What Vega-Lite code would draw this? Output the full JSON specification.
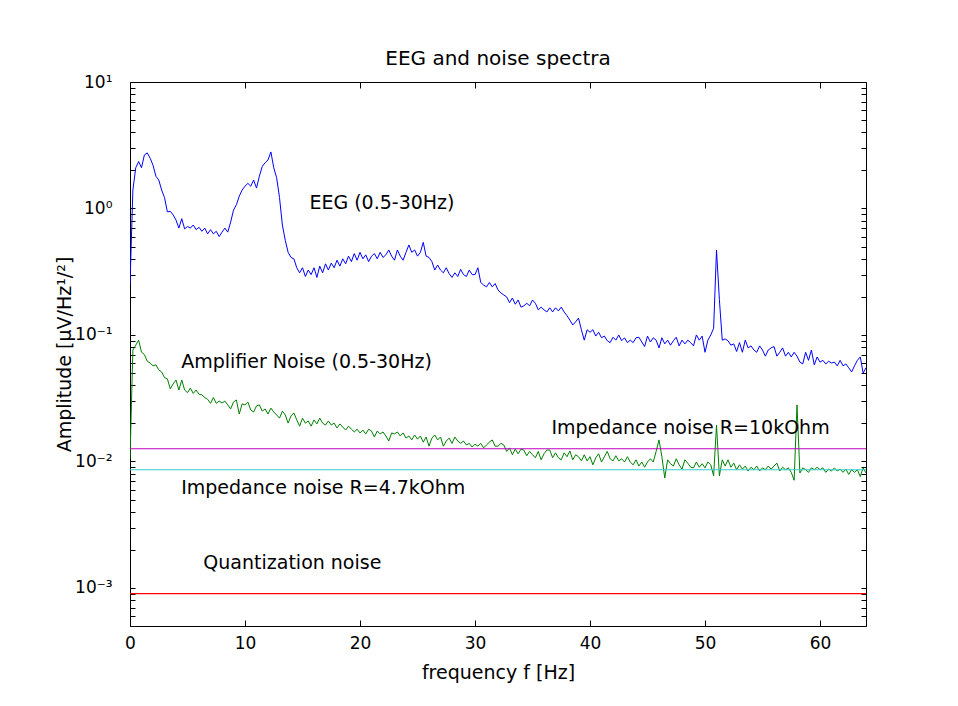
{
 "$schema": "https://vega.github.io/schema/vega-lite/v6.json",
 "width": 736,
 "height": 544,
 "autosize": {"type": "none"},
 "padding": {"left": 130, "top": 82, "right": 92, "bottom": 80},
 "background": "white",
 "config": {
  "view": {"stroke": "black", "strokeWidth": 1},
  "font": "DejaVu Sans",
  "axis": {"grid": false, "domain": false, "tickColor": "black", "labelColor": "black", "titleColor": "black", "labelFont": "DejaVu Sans", "titleFont": "DejaVu Sans", "labelFontSize": 17, "titleFontSize": 19, "titleFontWeight": "normal"},
  "title": {"font": "DejaVu Sans", "fontSize": 20, "fontWeight": "normal", "color": "black"}
 },
 "title": {"text": "EEG and noise spectra", "anchor": "middle", "offset": 4},
 "datasets": {
  "spectrum": [
   {"f":0,"eeg":0.25,"amp":0.0105},{"f":0.25,"eeg":1.4,"amp":0.076},{"f":0.5,"eeg":2.1,"amp":0.083},{"f":0.75,"eeg":2.35,"amp":0.091},
   {"f":1,"eeg":2.1,"amp":0.073},{"f":1.25,"eeg":2.65,"amp":0.07},{"f":1.5,"eeg":2.75,"amp":0.062},{"f":1.75,"eeg":2.5,"amp":0.06},
   {"f":2,"eeg":2.2,"amp":0.057},{"f":2.25,"eeg":1.8,"amp":0.058},{"f":2.5,"eeg":1.68,"amp":0.053},{"f":2.75,"eeg":1.4,"amp":0.051},
   {"f":3,"eeg":1.22,"amp":0.046},{"f":3.25,"eeg":0.94,"amp":0.045},{"f":3.5,"eeg":0.95,"amp":0.0375},{"f":3.75,"eeg":0.89,"amp":0.041},
   {"f":4,"eeg":0.81,"amp":0.044},{"f":4.25,"eeg":0.7,"amp":0.0367},{"f":4.5,"eeg":0.83,"amp":0.0441},{"f":4.75,"eeg":0.69,"amp":0.0367},
   {"f":5,"eeg":0.72,"amp":0.035},{"f":5.25,"eeg":0.7,"amp":0.038},{"f":5.5,"eeg":0.74,"amp":0.0345},{"f":5.75,"eeg":0.68,"amp":0.0367},
   {"f":6,"eeg":0.71,"amp":0.034},{"f":6.25,"eeg":0.66,"amp":0.0336},{"f":6.5,"eeg":0.7,"amp":0.032},{"f":6.75,"eeg":0.63,"amp":0.031},
   {"f":7,"eeg":0.68,"amp":0.0288},{"f":7.25,"eeg":0.63,"amp":0.032},{"f":7.5,"eeg":0.66,"amp":0.0288},{"f":7.75,"eeg":0.6,"amp":0.03},
   {"f":8,"eeg":0.65,"amp":0.029},{"f":8.25,"eeg":0.7,"amp":0.03},{"f":8.5,"eeg":0.65,"amp":0.028},{"f":8.75,"eeg":0.78,"amp":0.026},
   {"f":9,"eeg":0.97,"amp":0.0295},{"f":9.25,"eeg":1.07,"amp":0.0306},{"f":9.5,"eeg":1.25,"amp":0.0237},{"f":9.75,"eeg":1.4,"amp":0.0285},
   {"f":10,"eeg":1.5,"amp":0.028},{"f":10.25,"eeg":1.58,"amp":0.0295},{"f":10.5,"eeg":1.5,"amp":0.0255},{"f":10.75,"eeg":1.68,"amp":0.0246},
   {"f":11,"eeg":1.45,"amp":0.0275},{"f":11.25,"eeg":1.8,"amp":0.028},{"f":11.5,"eeg":2.15,"amp":0.025},{"f":11.75,"eeg":2.3,"amp":0.026},
   {"f":12,"eeg":2.42,"amp":0.0237},{"f":12.25,"eeg":2.8,"amp":0.0264},{"f":12.5,"eeg":2.1,"amp":0.0246},{"f":12.75,"eeg":1.75,"amp":0.0233},
   {"f":13,"eeg":1.22,"amp":0.022},{"f":13.25,"eeg":0.74,"amp":0.025},{"f":13.5,"eeg":0.56,"amp":0.0233},{"f":13.75,"eeg":0.45,"amp":0.0201},
   {"f":14,"eeg":0.41,"amp":0.0229},{"f":14.25,"eeg":0.4,"amp":0.0242},{"f":14.5,"eeg":0.34,"amp":0.0213},{"f":14.75,"eeg":0.31,"amp":0.019},
   {"f":15,"eeg":0.34,"amp":0.022},{"f":15.25,"eeg":0.29,"amp":0.0201},{"f":15.5,"eeg":0.326,"amp":0.0209},{"f":15.75,"eeg":0.3,"amp":0.019},
   {"f":16,"eeg":0.34,"amp":0.0213},{"f":16.25,"eeg":0.285,"amp":0.0198},{"f":16.5,"eeg":0.35,"amp":0.022},{"f":16.75,"eeg":0.31,"amp":0.0201},
   {"f":17,"eeg":0.365,"amp":0.0194},{"f":17.25,"eeg":0.326,"amp":0.0209},{"f":17.5,"eeg":0.37,"amp":0.0194},{"f":17.75,"eeg":0.34,"amp":0.0201},
   {"f":18,"eeg":0.39,"amp":0.0184},{"f":18.25,"eeg":0.35,"amp":0.0198},{"f":18.5,"eeg":0.4,"amp":0.0187},{"f":18.75,"eeg":0.365,"amp":0.0177},
   {"f":19,"eeg":0.42,"amp":0.019},{"f":19.25,"eeg":0.38,"amp":0.018},{"f":19.5,"eeg":0.44,"amp":0.0171},{"f":19.75,"eeg":0.39,"amp":0.018},
   {"f":20,"eeg":0.45,"amp":0.0168},{"f":20.25,"eeg":0.4,"amp":0.0177},{"f":20.5,"eeg":0.43,"amp":0.0165},{"f":20.75,"eeg":0.38,"amp":0.018},
   {"f":21,"eeg":0.42,"amp":0.0174},{"f":21.25,"eeg":0.44,"amp":0.0156},{"f":21.5,"eeg":0.4,"amp":0.0174},{"f":21.75,"eeg":0.45,"amp":0.0165},
   {"f":22,"eeg":0.41,"amp":0.0171},{"f":22.25,"eeg":0.43,"amp":0.0159},{"f":22.5,"eeg":0.47,"amp":0.0145},{"f":22.75,"eeg":0.42,"amp":0.0168},
   {"f":23,"eeg":0.39,"amp":0.0165},{"f":23.25,"eeg":0.47,"amp":0.0171},{"f":23.5,"eeg":0.42,"amp":0.0159},{"f":23.75,"eeg":0.39,"amp":0.0168},
   {"f":24,"eeg":0.45,"amp":0.0153},{"f":24.25,"eeg":0.515,"amp":0.0159},{"f":24.5,"eeg":0.45,"amp":0.0148},{"f":24.75,"eeg":0.47,"amp":0.0162},
   {"f":25,"eeg":0.42,"amp":0.015},{"f":25.25,"eeg":0.45,"amp":0.0159},{"f":25.5,"eeg":0.54,"amp":0.0142},{"f":25.75,"eeg":0.42,"amp":0.0156},
   {"f":26,"eeg":0.41,"amp":0.0132},{"f":26.25,"eeg":0.38,"amp":0.0153},{"f":26.5,"eeg":0.326,"amp":0.0162},{"f":26.75,"eeg":0.357,"amp":0.0148},
   {"f":27,"eeg":0.326,"amp":0.0156},{"f":27.25,"eeg":0.31,"amp":0.0132},{"f":27.5,"eeg":0.34,"amp":0.0145},{"f":27.75,"eeg":0.305,"amp":0.0153},
   {"f":28,"eeg":0.285,"amp":0.0139},{"f":28.25,"eeg":0.31,"amp":0.0156},{"f":28.5,"eeg":0.29,"amp":0.0145},{"f":28.75,"eeg":0.33,"amp":0.0139},
   {"f":29,"eeg":0.3,"amp":0.0145},{"f":29.25,"eeg":0.29,"amp":0.0135},{"f":29.5,"eeg":0.326,"amp":0.0139},{"f":29.75,"eeg":0.3,"amp":0.013},
   {"f":30,"eeg":0.3,"amp":0.0137},{"f":30.25,"eeg":0.34,"amp":0.0132},{"f":30.5,"eeg":0.26,"amp":0.0139},{"f":30.75,"eeg":0.248,"amp":0.0128},
   {"f":31,"eeg":0.24,"amp":0.0135},{"f":31.25,"eeg":0.26,"amp":0.0142},{"f":31.5,"eeg":0.24,"amp":0.0148},{"f":31.75,"eeg":0.255,"amp":0.0132},
   {"f":32,"eeg":0.227,"amp":0.0132},{"f":32.25,"eeg":0.215,"amp":0.0139},{"f":32.5,"eeg":0.207,"amp":0.0135},{"f":32.75,"eeg":0.2,"amp":0.012},
   {"f":33,"eeg":0.18,"amp":0.0128},{"f":33.25,"eeg":0.196,"amp":0.0113},{"f":33.5,"eeg":0.175,"amp":0.0125},{"f":33.75,"eeg":0.189,"amp":0.0115},
   {"f":34,"eeg":0.166,"amp":0.0125},{"f":34.25,"eeg":0.17,"amp":0.0123},{"f":34.5,"eeg":0.178,"amp":0.0111},{"f":34.75,"eeg":0.17,"amp":0.012},
   {"f":35,"eeg":0.189,"amp":0.0113},{"f":35.25,"eeg":0.178,"amp":0.0107},{"f":35.5,"eeg":0.158,"amp":0.012},{"f":35.75,"eeg":0.166,"amp":0.0103},
   {"f":36,"eeg":0.158,"amp":0.0115},{"f":36.25,"eeg":0.152,"amp":0.0123},{"f":36.5,"eeg":0.164,"amp":0.0123},{"f":36.75,"eeg":0.152,"amp":0.0107},
   {"f":37,"eeg":0.164,"amp":0.0117},{"f":37.25,"eeg":0.155,"amp":0.0107},{"f":37.5,"eeg":0.166,"amp":0.0103},{"f":37.75,"eeg":0.152,"amp":0.0117},
   {"f":38,"eeg":0.142,"amp":0.0109},{"f":38.25,"eeg":0.131,"amp":0.0121},{"f":38.5,"eeg":0.12,"amp":0.0103},{"f":38.75,"eeg":0.127,"amp":0.0113},
   {"f":39,"eeg":0.136,"amp":0.0109},{"f":39.25,"eeg":0.11,"amp":0.0101},{"f":39.5,"eeg":0.091,"amp":0.0113},{"f":39.75,"eeg":0.11,"amp":0.0101},
   {"f":40,"eeg":0.105,"amp":0.0109},{"f":40.25,"eeg":0.11,"amp":0.0094},{"f":40.5,"eeg":0.098,"amp":0.0107},{"f":40.75,"eeg":0.105,"amp":0.0115},
   {"f":41,"eeg":0.095,"amp":0.0099},{"f":41.25,"eeg":0.098,"amp":0.0109},{"f":41.5,"eeg":0.09,"amp":0.012},{"f":41.75,"eeg":0.087,"amp":0.0105},
   {"f":42,"eeg":0.096,"amp":0.0101},{"f":42.25,"eeg":0.091,"amp":0.0111},{"f":42.5,"eeg":0.1,"amp":0.0101},{"f":42.75,"eeg":0.09,"amp":0.0105},
   {"f":43,"eeg":0.095,"amp":0.0099},{"f":43.25,"eeg":0.087,"amp":0.0109},{"f":43.5,"eeg":0.091,"amp":0.0099},{"f":43.75,"eeg":0.087,"amp":0.0094},
   {"f":44,"eeg":0.095,"amp":0.0103},{"f":44.25,"eeg":0.096,"amp":0.0092},{"f":44.5,"eeg":0.088,"amp":0.0099},{"f":44.75,"eeg":0.081,"amp":0.009},
   {"f":45,"eeg":0.098,"amp":0.0099},{"f":45.25,"eeg":0.088,"amp":0.0105},{"f":45.5,"eeg":0.095,"amp":0.0099},{"f":45.75,"eeg":0.091,"amp":0.012},
   {"f":46,"eeg":0.079,"amp":0.0148},{"f":46.25,"eeg":0.095,"amp":0.0109},{"f":46.5,"eeg":0.085,"amp":0.0074},{"f":46.75,"eeg":0.091,"amp":0.0103},
   {"f":47,"eeg":0.083,"amp":0.0096},{"f":47.25,"eeg":0.09,"amp":0.0092},{"f":47.5,"eeg":0.096,"amp":0.0105},{"f":47.75,"eeg":0.082,"amp":0.0094},
   {"f":48,"eeg":0.091,"amp":0.0087},{"f":48.25,"eeg":0.085,"amp":0.0103},{"f":48.5,"eeg":0.091,"amp":0.0097},{"f":48.75,"eeg":0.087,"amp":0.009},
   {"f":49,"eeg":0.082,"amp":0.0089},{"f":49.25,"eeg":0.1,"amp":0.0099},{"f":49.5,"eeg":0.091,"amp":0.009},{"f":49.75,"eeg":0.098,"amp":0.0096},
   {"f":50,"eeg":0.073,"amp":0.0089},{"f":50.25,"eeg":0.091,"amp":0.0099},{"f":50.5,"eeg":0.1,"amp":0.0094},{"f":50.75,"eeg":0.113,"amp":0.0077},
   {"f":51,"eeg":0.47,"amp":0.0194},{"f":51.25,"eeg":0.19,"amp":0.0077},{"f":51.5,"eeg":0.091,"amp":0.0103},{"f":51.75,"eeg":0.093,"amp":0.0092},
   {"f":52,"eeg":0.09,"amp":0.0103},{"f":52.25,"eeg":0.083,"amp":0.009},{"f":52.5,"eeg":0.085,"amp":0.0097},{"f":52.75,"eeg":0.074,"amp":0.0086},
   {"f":53,"eeg":0.087,"amp":0.0094},{"f":53.25,"eeg":0.073,"amp":0.0087},{"f":53.5,"eeg":0.091,"amp":0.0092},{"f":53.75,"eeg":0.079,"amp":0.0084},
   {"f":54,"eeg":0.082,"amp":0.009},{"f":54.25,"eeg":0.076,"amp":0.0086},{"f":54.5,"eeg":0.073,"amp":0.0092},{"f":54.75,"eeg":0.082,"amp":0.0084},
   {"f":55,"eeg":0.076,"amp":0.0089},{"f":55.25,"eeg":0.068,"amp":0.0086},{"f":55.5,"eeg":0.076,"amp":0.0092},{"f":55.75,"eeg":0.079,"amp":0.0087},
   {"f":56,"eeg":0.081,"amp":0.0092},{"f":56.25,"eeg":0.068,"amp":0.0097},{"f":56.5,"eeg":0.073,"amp":0.0084},{"f":56.75,"eeg":0.079,"amp":0.009},
   {"f":57,"eeg":0.068,"amp":0.0086},{"f":57.25,"eeg":0.073,"amp":0.0089},{"f":57.5,"eeg":0.067,"amp":0.0082},{"f":57.75,"eeg":0.073,"amp":0.0071},
   {"f":58,"eeg":0.068,"amp":0.028},{"f":58.25,"eeg":0.061,"amp":0.0081},{"f":58.5,"eeg":0.059,"amp":0.0089},{"f":58.75,"eeg":0.073,"amp":0.0086},
   {"f":59,"eeg":0.063,"amp":0.0082},{"f":59.25,"eeg":0.076,"amp":0.0089},{"f":59.5,"eeg":0.058,"amp":0.0086},{"f":59.75,"eeg":0.067,"amp":0.009},
   {"f":60,"eeg":0.061,"amp":0.0086},{"f":60.25,"eeg":0.063,"amp":0.0089},{"f":60.5,"eeg":0.059,"amp":0.0082},{"f":60.75,"eeg":0.062,"amp":0.0087},
   {"f":61,"eeg":0.06,"amp":0.0084},{"f":61.25,"eeg":0.061,"amp":0.0089},{"f":61.5,"eeg":0.057,"amp":0.0084},{"f":61.75,"eeg":0.063,"amp":0.0087},
   {"f":62,"eeg":0.057,"amp":0.0082},{"f":62.25,"eeg":0.059,"amp":0.0087},{"f":62.5,"eeg":0.055,"amp":0.0079},{"f":62.75,"eeg":0.051,"amp":0.0086},
   {"f":63,"eeg":0.057,"amp":0.0082},{"f":63.25,"eeg":0.063,"amp":0.0086},{"f":63.5,"eeg":0.067,"amp":0.0076},{"f":63.75,"eeg":0.05,"amp":0.0089},
   {"f":64,"eeg":0.055,"amp":0.0081}
  ],
  "levels": [
   {"noise": "Impedance 10kOhm", "v": 0.0126},
   {"noise": "Impedance 4.7kOhm", "v": 0.0086},
   {"noise": "Quantization", "v": 0.0009}
  ],
  "labels": [
   {"label": "EEG (0.5-30Hz)", "f": 15.6, "v": 1.1},
   {"label": "Amplifier Noise (0.5-30Hz)", "f": 4.45, "v": 0.0615},
   {"label": "Impedance noise R=10kOhm", "f": 36.65, "v": 0.0183},
   {"label": "Impedance noise R=4.7kOhm", "f": 4.45, "v": 0.0062},
   {"label": "Quantization noise", "f": 6.38, "v": 0.00158}
  ]
 },
 "layer": [
  {
   "data": {"name": "spectrum"},
   "mark": {"type": "line", "color": "#0000FF", "strokeWidth": 1, "clip": true},
   "encoding": {
    "x": {"field": "f", "type": "quantitative", "scale": {"domain": [0, 64], "nice": false, "zero": false},
     "axis": {"orient": "bottom", "values": [0, 10, 20, 30, 40, 50, 60], "tickSize": -6, "labelPadding": 15, "labelFlush": false, "labelOverlap": false, "title": "frequency f [Hz]", "titlePadding": 12}},
    "y": {"field": "eeg", "type": "quantitative", "scale": {"type": "log", "domain": [0.0005, 10], "nice": false},
     "axis": {"orient": "left", "values": [0.0005,0.0006,0.0007,0.0008,0.0009,0.001,0.002,0.003,0.004,0.005,0.006,0.007,0.008,0.009,0.01,0.02,0.03,0.04,0.05,0.06,0.07,0.08,0.09,0.1,0.2,0.3,0.4,0.5,0.6,0.7,0.8,0.9,1,2,3,4,5,6,7,8,9,10],
      "tickSize": -5, "labelPadding": 23, "labelOverlap": false, "labelFlush": false,
      "labelExpr": "datum.value == 10 ? '10¹' : datum.value == 1 ? '10⁰' : datum.value == 0.1 ? '10⁻¹' : datum.value == 0.01 ? '10⁻²' : datum.value == 0.001 ? '10⁻³' : ''",
      "title": "Amplitude [µV/Hz¹/²]", "titlePadding": 0}}
   }
  },
  {
   "data": {"name": "spectrum"},
   "mark": {"type": "line", "color": "#008000", "strokeWidth": 1, "clip": true},
   "encoding": {
    "x": {"field": "f", "type": "quantitative", "scale": {"domain": [0, 64], "nice": false, "zero": false},
     "axis": {"orient": "top", "values": [0, 10, 20, 30, 40, 50, 60], "tickSize": -6, "labels": false, "title": null}},
    "y": {"field": "amp", "type": "quantitative", "scale": {"type": "log", "domain": [0.0005, 10], "nice": false},
     "axis": {"orient": "right", "values": [0.0005,0.0006,0.0007,0.0008,0.0009,0.001,0.002,0.003,0.004,0.005,0.006,0.007,0.008,0.009,0.01,0.02,0.03,0.04,0.05,0.06,0.07,0.08,0.09,0.1,0.2,0.3,0.4,0.5,0.6,0.7,0.8,0.9,1,2,3,4,5,6,7,8,9,10],
      "tickSize": -5, "labels": false, "title": null}}
   }
  },
  {
   "data": {"name": "levels"},
   "mark": {"type": "rule", "strokeWidth": 1.2},
   "encoding": {
    "y": {"field": "v", "type": "quantitative", "scale": {"type": "log", "domain": [0.0005, 10], "nice": false}, "axis": null},
    "color": {"field": "noise", "type": "nominal", "scale": {"domain": ["Impedance 10kOhm", "Impedance 4.7kOhm", "Quantization"], "range": ["#BF00BF", "#33CCCC", "#FF0000"]}, "legend": null}
   }
  },
  {
   "data": {"name": "labels"},
   "mark": {"type": "text", "align": "left", "baseline": "middle", "font": "DejaVu Sans", "fontSize": 19, "color": "black"},
   "encoding": {
    "x": {"field": "f", "type": "quantitative", "scale": {"domain": [0, 64], "nice": false, "zero": false}, "axis": null},
    "y": {"field": "v", "type": "quantitative", "scale": {"type": "log", "domain": [0.0005, 10], "nice": false}, "axis": null},
    "text": {"field": "label", "type": "nominal"}
   }
  }
 ],
 "resolve": {"axis": {"x": "independent", "y": "independent"}}
}
